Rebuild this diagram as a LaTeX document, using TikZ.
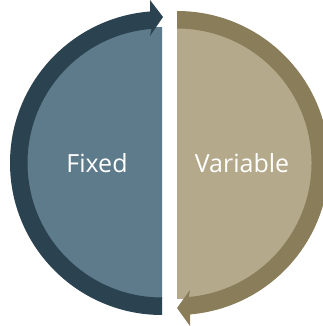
\documentclass[tikz,border=0pt]{standalone}
\usepackage{fontspec}
\setmainfont{Open Sans}
\definecolor{fixfill}{HTML}{5D7B8A}
\definecolor{fixring}{HTML}{2B4251}
\definecolor{varfill}{HTML}{B5A98B}
\definecolor{varring}{HTML}{8A7D5A}
\begin{document}
\begin{tikzpicture}[x=1pt,y=1pt,
  lbl/.style={text=white,font=\fontsize{25}{30}\selectfont,inner sep=0pt}]
\useasboundingbox (0,0) rectangle (323,326);
\clip (0,0) rectangle (323,326);
% left half
\begin{scope}[shift={(162,163)}]
  \fill[fixfill] (0,-136) arc[start angle=270,end angle=90,radius=136] -- cycle;
  \fill[fixring] (0,-152) arc[start angle=270,end angle=94.5,radius=152]
    -- (-12,163) -- (1,146) -- (-12,127)
    -- (94.5:134.5) arc[start angle=94.5,end angle=270,radius=134.5] -- cycle;
\end{scope}
% right half
\begin{scope}[shift={(177,163)}]
  \fill[varfill] (0,136) arc[start angle=90,end angle=-90,radius=136] -- cycle;
  \fill[varring] (0,152) arc[start angle=90,end angle=-85,radius=152]
    -- (13,-163) -- (0,-145) -- (13,-127)
    -- (-85:134.5) arc[start angle=-85,end angle=90,radius=134.5] -- cycle;
\end{scope}
\node[lbl] (fixed) at (97,163) {Fixed};
\node[lbl] (variable) at (242,163) {Variable};
\end{tikzpicture}
\end{document}
